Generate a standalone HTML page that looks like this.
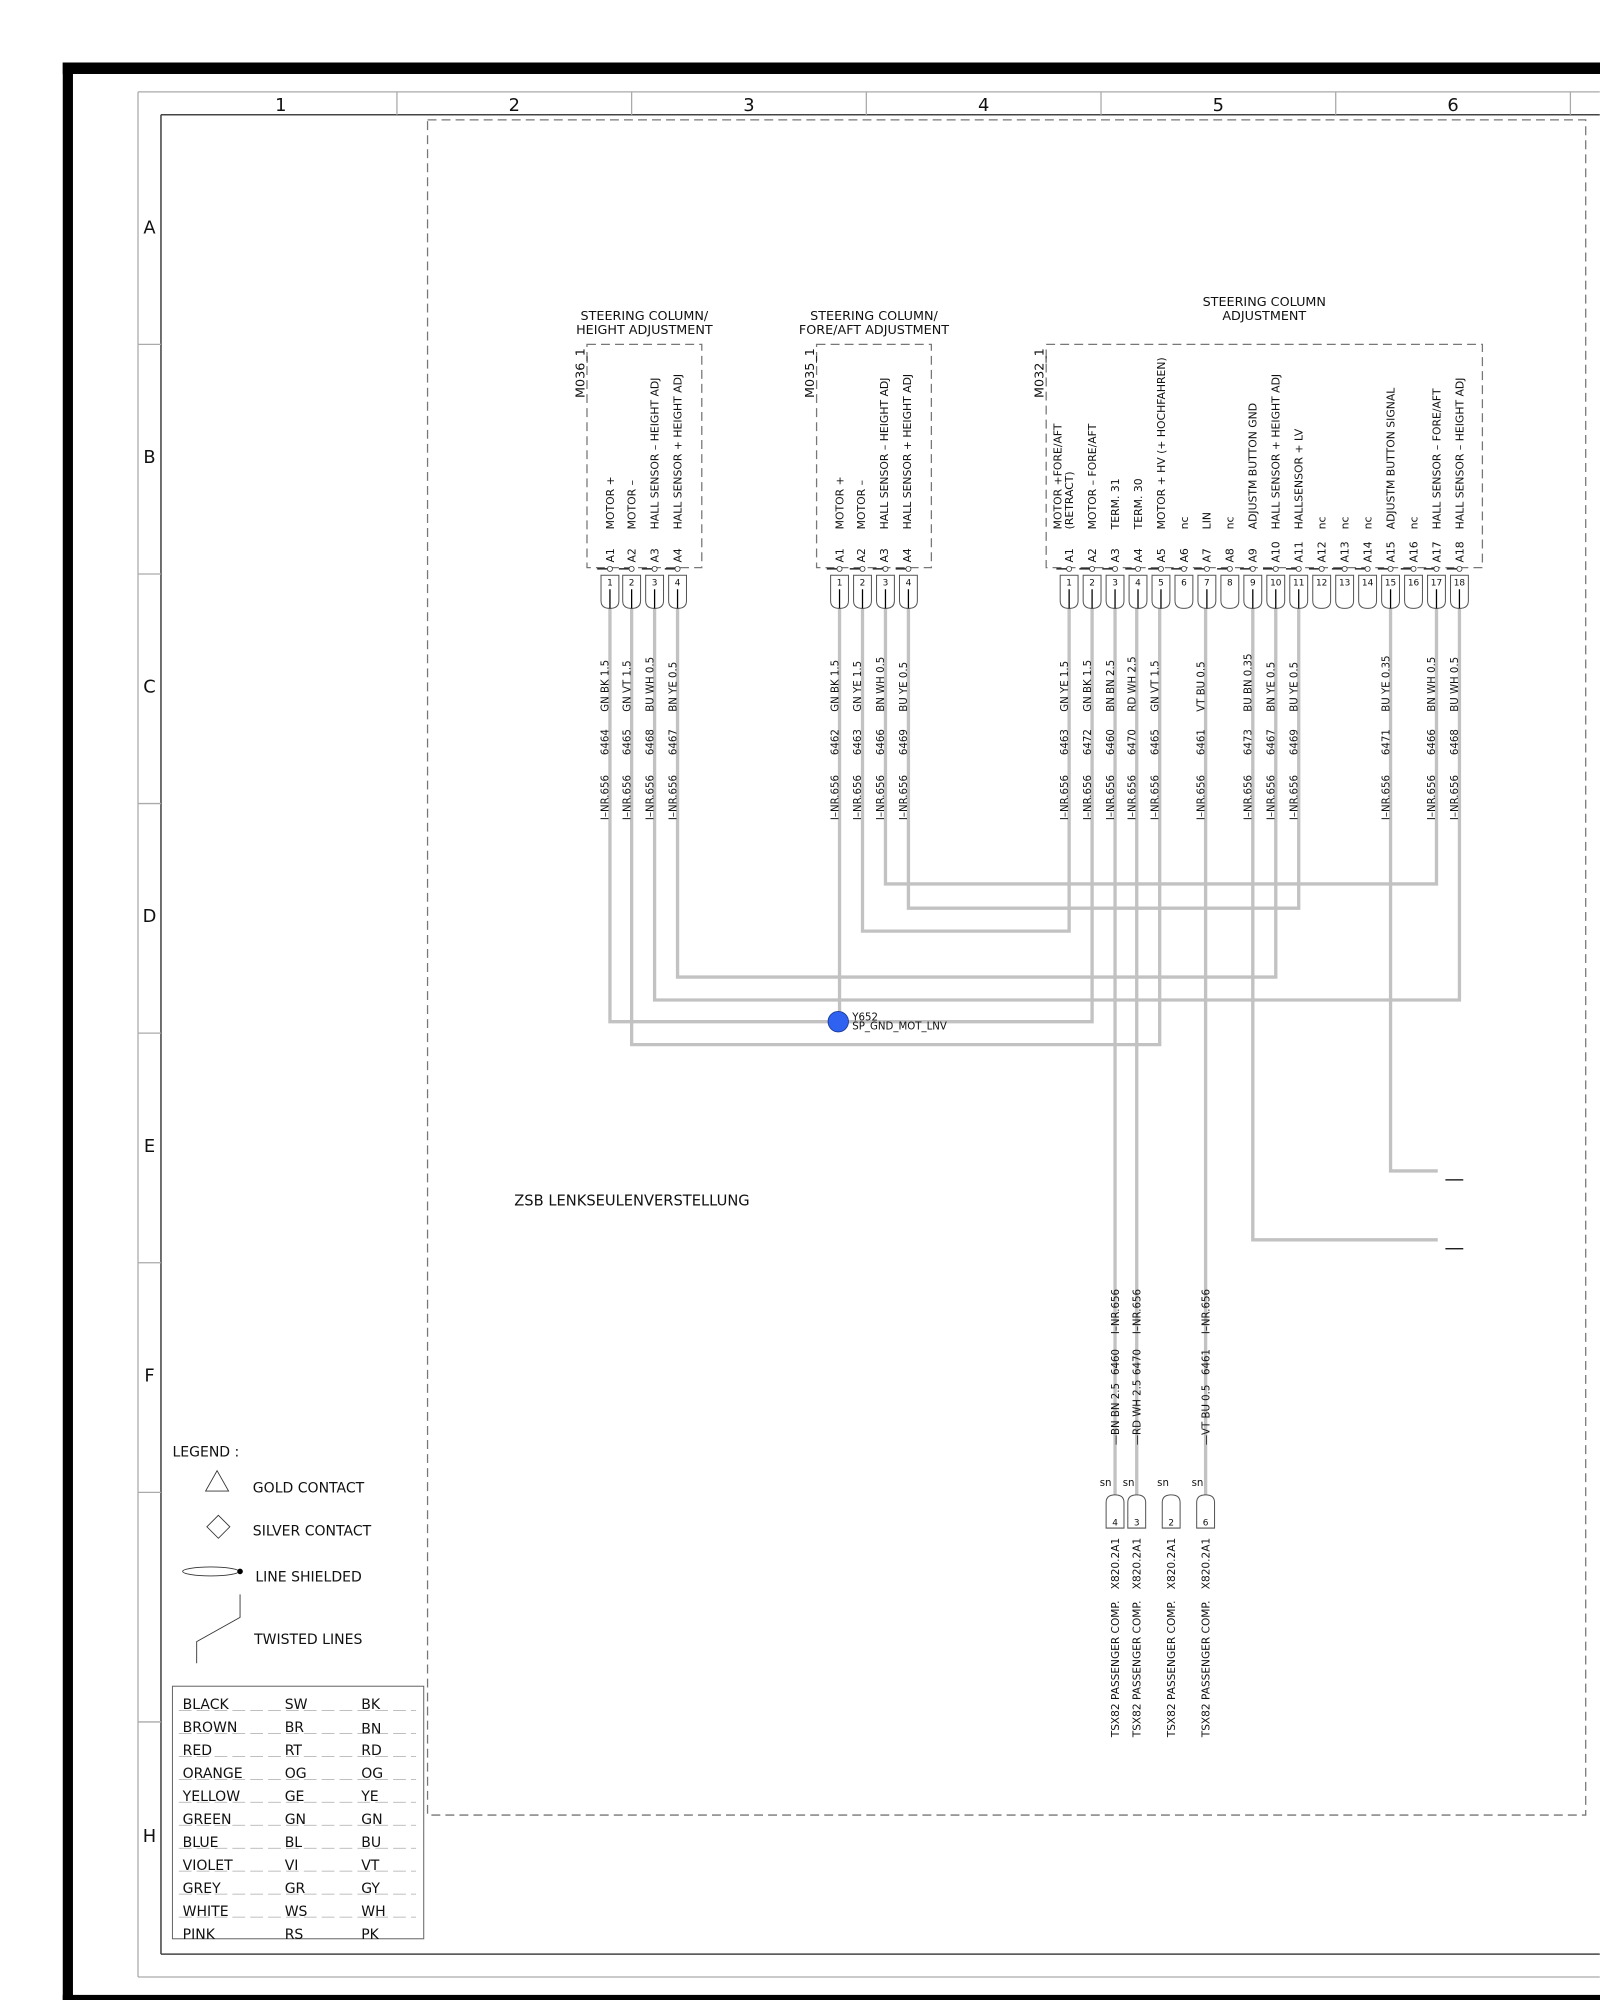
<!DOCTYPE html>
<html><head><meta charset="utf-8"><style>
html,body{margin:0;padding:0;background:#fff;width:1600px;height:2000px;overflow:hidden}
svg{display:block}
text{font-family:"DejaVu Sans","Liberation Sans",sans-serif;fill:#111}
.t8{font-size:8px}
.t7{font-size:7px}
.hd{font-size:10px;text-anchor:middle}
.w{stroke:#c2c2c2;stroke-width:2.6;fill:none}
.g{stroke:#aaa;stroke-width:1;fill:none}
.dash{stroke:#777;stroke-width:1;fill:none;stroke-dasharray:7,4}
.pin{fill:#fff;stroke:#555;stroke-width:0.8}
.bl{stroke:#000;stroke-width:1}
</style></head><body>
<svg width="1600" height="2000" viewBox="0 0 1254 1568" xmlns="http://www.w3.org/2000/svg">
<rect x="49" y="49" width="1210" height="9" fill="#000"/>
<rect x="49" y="49" width="8" height="1519" fill="#000"/>
<rect x="49" y="1564" width="1210" height="4" fill="#000"/>
<line x1="108" y1="72" x2="1254" y2="72" class="g"/>
<line x1="108" y1="72" x2="108" y2="1550" class="g"/>
<line x1="108" y1="1550" x2="1254" y2="1550" class="g"/>
<line x1="126" y1="90" x2="1254" y2="90" stroke="#444" stroke-width="1.2"/>
<line x1="126" y1="90" x2="126" y2="1532" stroke="#444" stroke-width="1.2"/>
<line x1="126" y1="1532" x2="1254" y2="1532" stroke="#444" stroke-width="1.2"/>
<g class="g">
<line x1="311" y1="72" x2="311" y2="90"/><line x1="495" y1="72" x2="495" y2="90"/><line x1="679" y1="72" x2="679" y2="90"/><line x1="863" y1="72" x2="863" y2="90"/><line x1="1047" y1="72" x2="1047" y2="90"/><line x1="1231" y1="72" x2="1231" y2="90"/>
<line x1="108" y1="270" x2="126" y2="270"/><line x1="108" y1="450" x2="126" y2="450"/><line x1="108" y1="630" x2="126" y2="630"/><line x1="108" y1="810" x2="126" y2="810"/><line x1="108" y1="990" x2="126" y2="990"/><line x1="108" y1="1170" x2="126" y2="1170"/><line x1="108" y1="1350" x2="126" y2="1350"/>
</g>
<g style="font-size:14px;text-anchor:middle">
<text x="220" y="87">1</text><text x="403" y="87">2</text><text x="587" y="87">3</text><text x="771" y="87">4</text><text x="955" y="87">5</text><text x="1139" y="87">6</text>
<text x="117" y="183">A</text><text x="117" y="363">B</text><text x="117" y="543">C</text><text x="117" y="723">D</text><text x="117" y="903">E</text><text x="117" y="1083">F</text><text x="117" y="1444">H</text>
</g>
<rect x="335" y="94" width="908" height="1329" class="dash"/>

<text class="hd" x="505" y="251">STEERING COLUMN/</text><text class="hd" x="505" y="262">HEIGHT ADJUSTMENT</text>
<text class="hd" x="685" y="251">STEERING COLUMN/</text><text class="hd" x="685" y="262">FORE/AFT ADJUSTMENT</text>
<text class="hd" x="991" y="240">STEERING COLUMN</text><text class="hd" x="991" y="251">ADJUSTMENT</text>

<path d="M460 270 H550 V445 H460 Z" class="dash"/>
<path d="M640 270 H730 V445 H640 Z" class="dash"/>
<path d="M820 270 H1162 V445 H820 Z" class="dash"/>
<text style="font-size:10px" transform="translate(458,312) rotate(-90)">M036_1</text>
<text style="font-size:10px" transform="translate(638,312) rotate(-90)">M035_1</text>
<text style="font-size:10px" transform="translate(818,312) rotate(-90)">M032_1</text>

<g class="w">
<path d="M478 477 V801 H856 V477"/>
<path d="M658 477 V801"/>
<path d="M495 477 V819 H909 V477"/>
<path d="M513 477 V784 H1144 V477"/>
<path d="M531 477 V766 H1000 V477"/>
<path d="M676 477 V730 H838 V477"/>
<path d="M694 477 V693 H1126 V477"/>
<path d="M712 477 V712 H1018 V477"/>
<path d="M874 477 V1172"/>
<path d="M891 477 V1172"/>
<path d="M945 477 V1172"/>
<path d="M1090 477 V918 H1127"/>
<path d="M982 477 V972 H1127"/>
</g>
<line x1="1133" y1="925" x2="1147" y2="925" class="bl"/>
<line x1="1133" y1="979" x2="1147" y2="979" class="bl"/>

<circle cx="657" cy="801" r="8" fill="#2f62f0" stroke="#1a3a99" stroke-width="0.7"/>
<text style="font-size:8px" x="668" y="800">Y652</text>
<text style="font-size:8px" x="668" y="807">SP_GND_MOT_LNV</text>

<defs>
<g id="pc"><path d="M-1 446 H-10" class="bl" stroke-width="0.6"/><circle cx="0" cy="446" r="2" fill="#fff" stroke="#333" stroke-width="0.6"/><path d="M-7 451 H7 V471 Q7 477 0 477 Q-7 477 -7 471 Z" class="pin"/></g>
<g id="pb"><path d="M-7 1198 H7 V1178 Q7 1172 0 1172 Q-7 1172 -7 1178 Z" class="pin"/></g>
</defs>

<g class="t8">
<use href="#pc" x="478"/><use href="#pc" x="495"/><use href="#pc" x="513"/><use href="#pc" x="531"/>
<use href="#pc" x="658"/><use href="#pc" x="676"/><use href="#pc" x="694"/><use href="#pc" x="712"/>
<use href="#pc" x="838"/><use href="#pc" x="856"/><use href="#pc" x="874"/><use href="#pc" x="892"/><use href="#pc" x="910"/><use href="#pc" x="928"/><use href="#pc" x="946"/><use href="#pc" x="964"/><use href="#pc" x="982"/><use href="#pc" x="1000"/><use href="#pc" x="1018"/><use href="#pc" x="1036"/><use href="#pc" x="1054"/><use href="#pc" x="1072"/><use href="#pc" x="1090"/><use href="#pc" x="1108"/><use href="#pc" x="1126"/><use href="#pc" x="1144"/>
</g>
<g class="bl">
<path d="M478 462V477M495 462V477M513 462V477M531 462V477M658 462V477M676 462V477M694 462V477M712 462V477M838 462V477M856 462V477M874 462V477M892 462V477M910 462V477M946 462V477M982 462V477M1000 462V477M1018 462V477M1090 462V477M1126 462V477M1144 462V477"/>
<path d="M874 1172V1188M891 1172V1188M945 1172V1188"/>
</g>
<g class="t7" style="text-anchor:middle">
<text x="478" y="459">1</text><text x="495" y="459">2</text><text x="513" y="459">3</text><text x="531" y="459">4</text>
<text x="658" y="459">1</text><text x="676" y="459">2</text><text x="694" y="459">3</text><text x="712" y="459">4</text>
<text x="838" y="459">1</text><text x="856" y="459">2</text><text x="874" y="459">3</text><text x="892" y="459">4</text><text x="910" y="459">5</text><text x="928" y="459">6</text><text x="946" y="459">7</text><text x="964" y="459">8</text><text x="982" y="459">9</text><text x="1000" y="459">10</text><text x="1018" y="459">11</text><text x="1036" y="459">12</text><text x="1054" y="459">13</text><text x="1072" y="459">14</text><text x="1090" y="459">15</text><text x="1108" y="459">16</text><text x="1126" y="459">17</text><text x="1144" y="459">18</text>
</g>

<g style="font-size:8.5px">
<text transform="translate(481,441) rotate(-90)">A1</text><text transform="translate(498,441) rotate(-90)">A2</text><text transform="translate(516,441) rotate(-90)">A3</text><text transform="translate(534,441) rotate(-90)">A4</text>
<text transform="translate(481,415) rotate(-90)">MOTOR +</text><text transform="translate(498,415) rotate(-90)">MOTOR –</text><text transform="translate(516,415) rotate(-90)">HALL SENSOR – HEIGHT ADJ</text><text transform="translate(534,415) rotate(-90)">HALL SENSOR + HEIGHT ADJ</text>
<text transform="translate(661,441) rotate(-90)">A1</text><text transform="translate(678,441) rotate(-90)">A2</text><text transform="translate(696,441) rotate(-90)">A3</text><text transform="translate(714,441) rotate(-90)">A4</text>
<text transform="translate(661,415) rotate(-90)">MOTOR +</text><text transform="translate(678,415) rotate(-90)">MOTOR –</text><text transform="translate(696,415) rotate(-90)">HALL SENSOR – HEIGHT ADJ</text><text transform="translate(714,415) rotate(-90)">HALL SENSOR + HEIGHT ADJ</text>

<text transform="translate(841,441) rotate(-90)">A1</text><text transform="translate(859,441) rotate(-90)">A2</text><text transform="translate(877,441) rotate(-90)">A3</text><text transform="translate(895,441) rotate(-90)">A4</text><text transform="translate(913,441) rotate(-90)">A5</text><text transform="translate(931,441) rotate(-90)">A6</text><text transform="translate(949,441) rotate(-90)">A7</text><text transform="translate(967,441) rotate(-90)">A8</text><text transform="translate(985,441) rotate(-90)">A9</text><text transform="translate(1003,441) rotate(-90)">A10</text><text transform="translate(1021,441) rotate(-90)">A11</text><text transform="translate(1039,441) rotate(-90)">A12</text><text transform="translate(1057,441) rotate(-90)">A13</text><text transform="translate(1075,441) rotate(-90)">A14</text><text transform="translate(1093,441) rotate(-90)">A15</text><text transform="translate(1111,441) rotate(-90)">A16</text><text transform="translate(1129,441) rotate(-90)">A17</text><text transform="translate(1147,441) rotate(-90)">A18</text>

<text transform="translate(832,415) rotate(-90)">MOTOR +FORE/AFT</text><text transform="translate(841,415) rotate(-90)">(RETRACT)</text>
<text transform="translate(859,415) rotate(-90)">MOTOR – FORE/AFT</text>
<text transform="translate(877,415) rotate(-90)">TERM. 31</text>
<text transform="translate(895,415) rotate(-90)">TERM. 30</text>
<text transform="translate(913,415) rotate(-90)">MOTOR + HV (+ HOCHFAHREN)</text>
<text transform="translate(931,415) rotate(-90)">nc</text>
<text transform="translate(949,415) rotate(-90)">LIN</text>
<text transform="translate(967,415) rotate(-90)">nc</text>
<text transform="translate(985,415) rotate(-90)">ADJUSTM BUTTON GND</text>
<text transform="translate(1003,415) rotate(-90)">HALL SENSOR + HEIGHT ADJ</text>
<text transform="translate(1021,415) rotate(-90)">HALLSENSOR + LV</text>
<text transform="translate(1039,415) rotate(-90)">nc</text>
<text transform="translate(1057,415) rotate(-90)">nc</text>
<text transform="translate(1075,415) rotate(-90)">nc</text>
<text transform="translate(1093,415) rotate(-90)">ADJUSTM BUTTON SIGNAL</text>
<text transform="translate(1111,415) rotate(-90)">nc</text>
<text transform="translate(1129,415) rotate(-90)">HALL SENSOR – FORE/AFT</text>
<text transform="translate(1147,415) rotate(-90)">HALL SENSOR – HEIGHT ADJ</text>
</g>

<g class="t8">
<text transform="translate(477,643) rotate(-90)">I–NR.656</text><text transform="translate(477,592) rotate(-90)">6464</text><text transform="translate(477,558) rotate(-90)">GN BK 1.5</text>
<text transform="translate(494,643) rotate(-90)">I–NR.656</text><text transform="translate(494,592) rotate(-90)">6465</text><text transform="translate(494,558) rotate(-90)">GN VT 1.5</text>
<text transform="translate(512,643) rotate(-90)">I–NR.656</text><text transform="translate(512,592) rotate(-90)">6468</text><text transform="translate(512,558) rotate(-90)">BU WH 0.5</text>
<text transform="translate(530,643) rotate(-90)">I–NR.656</text><text transform="translate(530,592) rotate(-90)">6467</text><text transform="translate(530,558) rotate(-90)">BN YE 0.5</text>

<text transform="translate(657,643) rotate(-90)">I–NR.656</text><text transform="translate(657,592) rotate(-90)">6462</text><text transform="translate(657,558) rotate(-90)">GN BK 1.5</text>
<text transform="translate(675,643) rotate(-90)">I–NR.656</text><text transform="translate(675,592) rotate(-90)">6463</text><text transform="translate(675,558) rotate(-90)">GN YE 1.5</text>
<text transform="translate(693,643) rotate(-90)">I–NR.656</text><text transform="translate(693,592) rotate(-90)">6466</text><text transform="translate(693,558) rotate(-90)">BN WH 0.5</text>
<text transform="translate(711,643) rotate(-90)">I–NR.656</text><text transform="translate(711,592) rotate(-90)">6469</text><text transform="translate(711,558) rotate(-90)">BU YE 0.5</text>

<text transform="translate(837,643) rotate(-90)">I–NR.656</text><text transform="translate(837,592) rotate(-90)">6463</text><text transform="translate(837,558) rotate(-90)">GN YE 1.5</text>
<text transform="translate(855,643) rotate(-90)">I–NR.656</text><text transform="translate(855,592) rotate(-90)">6472</text><text transform="translate(855,558) rotate(-90)">GN BK 1.5</text>
<text transform="translate(873,643) rotate(-90)">I–NR.656</text><text transform="translate(873,592) rotate(-90)">6460</text><text transform="translate(873,558) rotate(-90)">BN BN 2.5</text>
<text transform="translate(890,643) rotate(-90)">I–NR.656</text><text transform="translate(890,592) rotate(-90)">6470</text><text transform="translate(890,558) rotate(-90)">RD WH 2.5</text>
<text transform="translate(908,643) rotate(-90)">I–NR.656</text><text transform="translate(908,592) rotate(-90)">6465</text><text transform="translate(908,558) rotate(-90)">GN VT 1.5</text>
<text transform="translate(944,643) rotate(-90)">I–NR.656</text><text transform="translate(944,592) rotate(-90)">6461</text><text transform="translate(944,558) rotate(-90)">VT BU 0.5</text>
<text transform="translate(981,643) rotate(-90)">I–NR.656</text><text transform="translate(981,592) rotate(-90)">6473</text><text transform="translate(981,558) rotate(-90)">BU BN 0.35</text>
<text transform="translate(999,643) rotate(-90)">I–NR.656</text><text transform="translate(999,592) rotate(-90)">6467</text><text transform="translate(999,558) rotate(-90)">BN YE 0.5</text>
<text transform="translate(1017,643) rotate(-90)">I–NR.656</text><text transform="translate(1017,592) rotate(-90)">6469</text><text transform="translate(1017,558) rotate(-90)">BU YE 0.5</text>
<text transform="translate(1089,643) rotate(-90)">I–NR.656</text><text transform="translate(1089,592) rotate(-90)">6471</text><text transform="translate(1089,558) rotate(-90)">BU YE 0.35</text>
<text transform="translate(1125,643) rotate(-90)">I–NR.656</text><text transform="translate(1125,592) rotate(-90)">6466</text><text transform="translate(1125,558) rotate(-90)">BN WH 0.5</text>
<text transform="translate(1143,643) rotate(-90)">I–NR.656</text><text transform="translate(1143,592) rotate(-90)">6468</text><text transform="translate(1143,558) rotate(-90)">BU WH 0.5</text>

<text transform="translate(877,1133) rotate(-90)">—BN BN 2.5</text><text transform="translate(877,1078) rotate(-90)">6460</text><text transform="translate(877,1046) rotate(-90)">I–NR.656</text>
<text transform="translate(894,1133) rotate(-90)">—RD WH 2.5</text><text transform="translate(894,1078) rotate(-90)">6470</text><text transform="translate(894,1046) rotate(-90)">I–NR.656</text>
<text transform="translate(948,1133) rotate(-90)">—VT BU 0.5</text><text transform="translate(948,1078) rotate(-90)">6461</text><text transform="translate(948,1046) rotate(-90)">I–NR.656</text>

<text x="862" y="1165">sn</text><text x="880" y="1165">sn</text><text x="907" y="1165">sn</text><text x="934" y="1165">sn</text>
</g>
<g style="font-size:8.3px">
<text transform="translate(877,1362) rotate(-90)">TSX82 PASSENGER COMP.</text><text transform="translate(877,1246) rotate(-90)">X820.2A1</text>
<text transform="translate(894,1362) rotate(-90)">TSX82 PASSENGER COMP.</text><text transform="translate(894,1246) rotate(-90)">X820.2A1</text>
<text transform="translate(921,1362) rotate(-90)">TSX82 PASSENGER COMP.</text><text transform="translate(921,1246) rotate(-90)">X820.2A1</text>
<text transform="translate(948,1362) rotate(-90)">TSX82 PASSENGER COMP.</text><text transform="translate(948,1246) rotate(-90)">X820.2A1</text>
</g>
<use href="#pb" x="874"/><use href="#pb" x="891"/><use href="#pb" x="918"/><use href="#pb" x="945"/>
<g class="t7" style="text-anchor:middle"><text x="874" y="1196">4</text><text x="891" y="1196">3</text><text x="918" y="1196">2</text><text x="945" y="1196">6</text></g>

<text x="403" y="945" style="font-size:11.5px">ZSB LENKSEULENVERSTELLUNG</text>

<g style="font-size:11px">
<text x="135" y="1142">LEGEND :</text>
<path d="M170 1153 L179 1169 L161 1169 Z" fill="none" stroke="#333" stroke-width="0.7"/>
<text x="198" y="1170">GOLD CONTACT</text>
<path d="M171 1188 L180 1197 L171 1206 L162 1197 Z" fill="none" stroke="#333" stroke-width="0.7"/>
<text x="198" y="1204">SILVER CONTACT</text>
<ellipse cx="165" cy="1232" rx="22" ry="3.5" fill="none" stroke="#333" stroke-width="0.7"/>
<circle cx="188" cy="1232" r="2.2" fill="#000"/>
<text x="200" y="1240">LINE SHIELDED</text>
<path d="M188 1250 V1268 L154 1287 V1304" fill="none" stroke="#333" stroke-width="0.7"/>
<text x="199" y="1289">TWISTED LINES</text>
</g>
<rect x="135" y="1322" width="197" height="198" fill="none" stroke="#666" stroke-width="0.8"/>
<g stroke="#aaa" stroke-width="0.6" stroke-dasharray="10,4">
<line x1="140" y1="1341" x2="326" y2="1341"/><line x1="140" y1="1359" x2="326" y2="1359"/><line x1="140" y1="1377" x2="326" y2="1377"/><line x1="140" y1="1395" x2="326" y2="1395"/><line x1="140" y1="1413" x2="326" y2="1413"/><line x1="140" y1="1431" x2="326" y2="1431"/><line x1="140" y1="1449" x2="326" y2="1449"/><line x1="140" y1="1467" x2="326" y2="1467"/><line x1="140" y1="1485" x2="326" y2="1485"/><line x1="140" y1="1503" x2="326" y2="1503"/>
</g>
<g style="font-size:11px">
<text x="143" y="1340">BLACK</text><text x="223" y="1340">SW</text><text x="283" y="1340">BK</text>
<text x="143" y="1358">BROWN</text><text x="223" y="1358">BR</text><text x="283" y="1359">BN</text>
<text x="143" y="1376">RED</text><text x="223" y="1376">RT</text><text x="283" y="1376">RD</text>
<text x="143" y="1394">ORANGE</text><text x="223" y="1394">OG</text><text x="283" y="1394">OG</text>
<text x="143" y="1412">YELLOW</text><text x="223" y="1412">GE</text><text x="283" y="1412">YE</text>
<text x="143" y="1430">GREEN</text><text x="223" y="1430">GN</text><text x="283" y="1430">GN</text>
<text x="143" y="1448">BLUE</text><text x="223" y="1448">BL</text><text x="283" y="1448">BU</text>
<text x="143" y="1466">VIOLET</text><text x="223" y="1466">VI</text><text x="283" y="1466">VT</text>
<text x="143" y="1484">GREY</text><text x="223" y="1484">GR</text><text x="283" y="1484">GY</text>
<text x="143" y="1502">WHITE</text><text x="223" y="1502">WS</text><text x="283" y="1502">WH</text>
<text x="143" y="1520">PINK</text><text x="223" y="1520">RS</text><text x="283" y="1520">PK</text>
</g>
</svg>
</body></html>
